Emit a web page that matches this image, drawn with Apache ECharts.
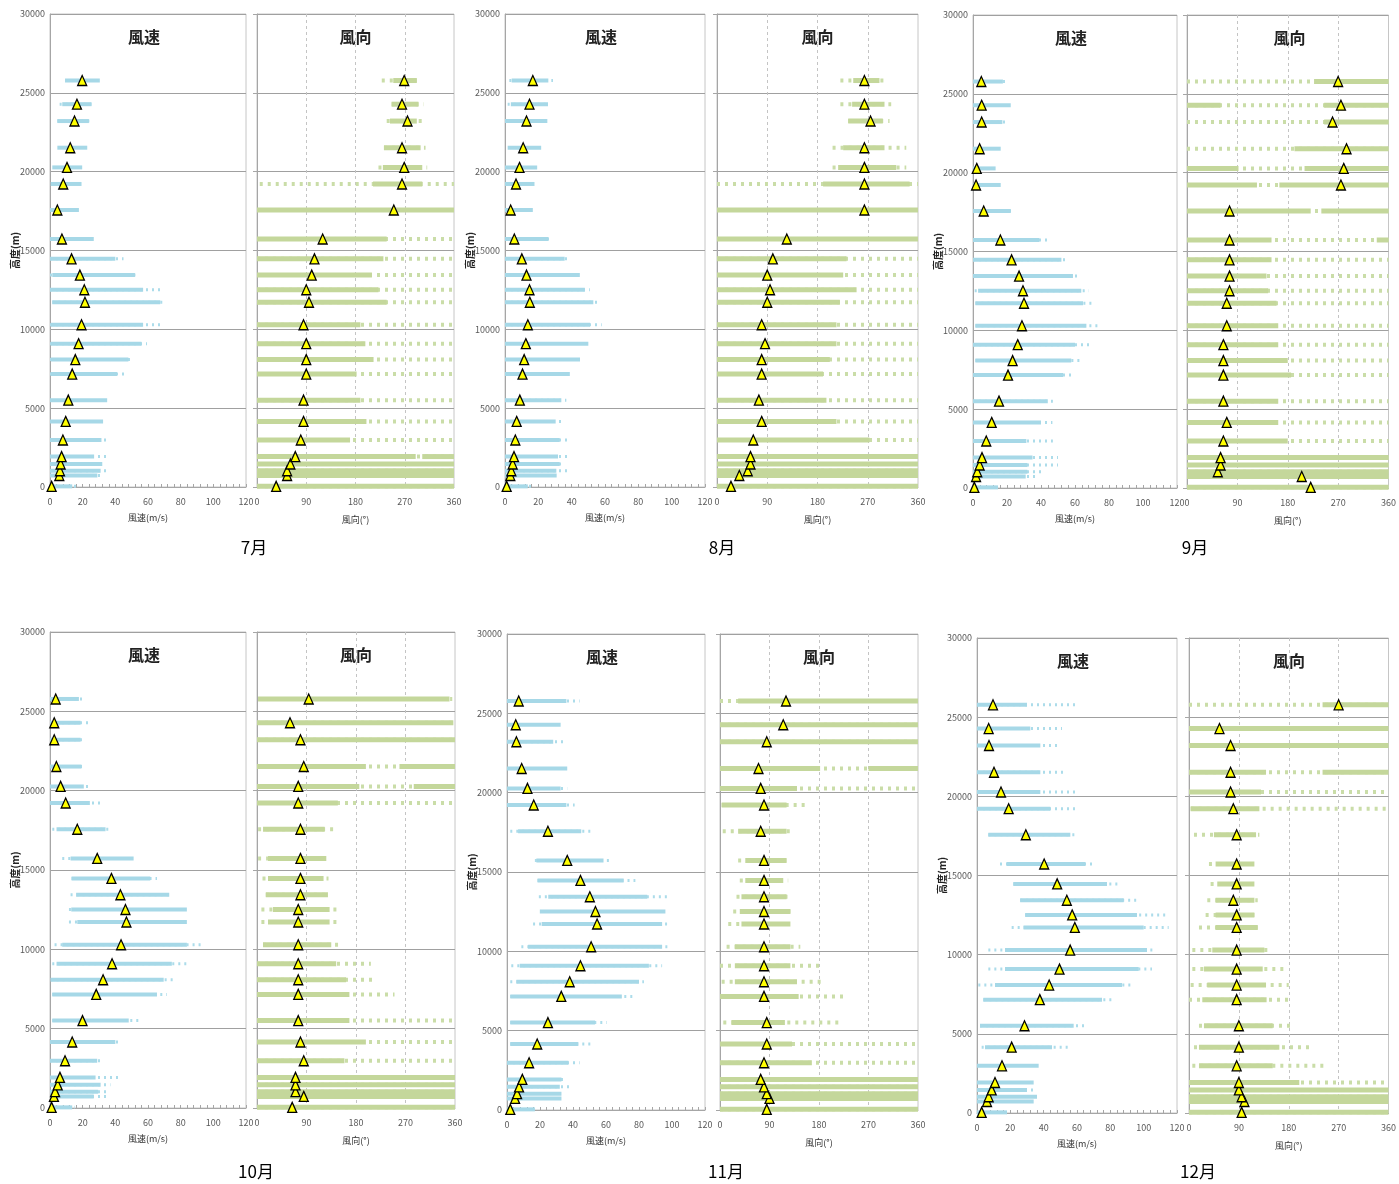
<!DOCTYPE html>
<html><head><meta charset="utf-8">
<script src="https://cdn.jsdelivr.net/npm/echarts@6/dist/echarts.min.js"></script>
<style>html,body{margin:0;padding:0;background:#fff}#c{width:1399px;height:1184px}</style>
</head><body><div id="c"></div>
<script>
// ---------- data (levels bottom -> top, metres) ----------
const LEVELS = [40, 730, 1030, 1460, 1930, 2980, 4160, 5510, 7160, 8080, 9090, 10290, 11720, 12510, 13440, 14470, 15730, 17570, 19220, 20270, 21520, 23210, 24280, 25780];
const MONTHS = ['7月', '8月', '9月', '10月', '11月', '12月'];
const ALT_AXIS = [0, 30000, 5000];
const SPD_AXIS = [0, 120, 20];
const DIR_AXIS = [0, 360, 90];

// wind speed: median (triangle), sparse low, dense low, dense high, sparse high (m/s)
const JUL_SPD_MED = [1.0, 5.7, 6.1, 6.5, 7.1, 7.9, 9.6, 11.2, 13.6, 15.5, 17.5, 19.3, 21.4, 21.0, 18.3, 13.2, 7.3, 4.5, 8.1, 10.4, 12.4, 15.0, 16.5, 19.7];
const JUL_SPD_LO  = [0, 0, 0, 0, 0, 0, 0, 0, 0, 0, 0, 0, 1.4, 0, 0, 0, 0, 0, 0.4, 1.4, 4.5, 4.5, 5.9, 9.2];
const JUL_SPD_DLO = [0, 0, 0, 0, 0, 0, 0, 0, 0.5, 0.5, 0.5, 0.5, 1.4, 0, 1.4, 0, 0, 0, 0.4, 1.4, 4.5, 4.5, 7.5, 9.2];
const JUL_SPD_DHI = [13.6, 29, 31, 32, 27, 31.5, 32.5, 35, 41, 48, 56, 57, 67.5, 57, 52, 40, 26.8, 17.7, 19.3, 19.7, 22.8, 23.8, 25.4, 30.5];
const JUL_SPD_HI  = [16, 32, 35, 33, 36, 36, 32.5, 35, 46, 49, 59.4, 69.6, 70.6, 69.6, 52.3, 45, 26.8, 17.7, 19.3, 19.7, 22.8, 26.2, 25.4, 30.5];

const AUG_SPD_MED = [1.0, 3.2, 3.8, 4.6, 5.4, 6.2, 7.0, 8.9, 10.5, 11.5, 12.5, 13.7, 14.9, 14.7, 12.9, 10.1, 5.6, 3.4, 6.6, 8.7, 10.9, 12.9, 14.7, 16.7];
const AUG_SPD_LO  = [0, 0, 0, 0, 0, 0, 0, 0, 0, 0, 0, 0, 0, 0, 0, 0, 0, 0, 0, 0, 1.6, 0, 1.6, 2.6];
const AUG_SPD_DLO = [0, 0, 0, 0, 0, 0, 0, 0, 0, 0, 0, 0, 0, 0, 0, 0, 0, 0, 0, 0, 1.6, 0, 3.5, 4];
const AUG_SPD_DHI = [13.7, 31, 30.8, 32.8, 31.8, 32.8, 30.4, 33.8, 38.9, 45, 50, 51, 53, 47.9, 44.9, 35.8, 26, 16.7, 17.7, 19.3, 21.7, 25.4, 25.8, 26];
const AUG_SPD_HI  = [16.7, 31, 39.5, 36, 39.5, 39.5, 35.8, 36.8, 38.9, 45, 50, 58, 56, 50.9, 44.9, 38.9, 27.8, 16.7, 17.7, 19.3, 21.7, 25.4, 25.8, 28.8];

const SEP_SPD_MED = [0.8, 1.8, 2.5, 3.9, 5.3, 7.8, 11.0, 15.3, 20.6, 23.3, 26.3, 28.8, 30.0, 29.4, 27.1, 22.7, 16.1, 6.3, 1.8, 2.2, 3.9, 5.1, 5.1, 4.9];
const SEP_SPD_LO  = [0, 0, 0, 0, 0, 0, 0, 0, 0, 1.4, 0, 1.4, 1.4, 1, 0, 0, 0, 0, 0, 0, 0, 0, 0, 0];
const SEP_SPD_DLO = [0, 0, 0, 0, 0, 0, 0, 0, 0, 1.4, 0, 1.4, 1.4, 3, 0, 0, 0, 0, 0, 0, 0, 0, 0, 0];
const SEP_SPD_DHI = [14.7, 31, 32, 32, 35, 31.4, 40, 44, 53, 57.8, 60, 66.7, 64.7, 63.7, 58.8, 52, 39, 22.2, 16.3, 13.3, 16.3, 17.3, 22.2, 17.6];
const SEP_SPD_HI  = [14.7, 37, 41, 50, 50, 47, 46.7, 47, 58.8, 64.7, 70.6, 73.5, 70.6, 68.2, 61.8, 56, 44, 24.5, 16.3, 13.3, 16.3, 19.2, 22.2, 20.2];

const OCT_SPD_MED = [1.0, 2.4, 3.1, 4.7, 6.1, 9.2, 13.6, 19.9, 28.3, 32.5, 38.0, 43.5, 46.8, 46.2, 43.1, 37.6, 28.9, 16.7, 9.6, 6.5, 3.9, 2.6, 2.6, 3.5];
const OCT_SPD_LO  = [0, 0, 0, 0, 0, 0, 0, 1.4, 1.4, 0.4, 1.4, 2.8, 11.6, 11.6, 12.6, 13.2, 7.5, 1.4, 0, 0, 0, 0, 0, 0];
const OCT_SPD_DLO = [0, 0, 0, 0, 0, 0, 0, 1.4, 1.4, 0.4, 4, 7.5, 16.7, 13, 16, 13.2, 12.6, 4, 0, 0, 0, 0, 0, 0];
const OCT_SPD_DHI = [13.6, 26.8, 29.5, 31, 27.9, 28.9, 40, 48.2, 65.5, 69.6, 74.6, 83.8, 83.8, 83.8, 73, 61.4, 51.2, 34, 24.4, 20.7, 19.3, 18.7, 18.7, 17.7];
const OCT_SPD_HI  = [15, 35, 35, 37, 44, 32, 43, 54.3, 71.6, 75.6, 84.8, 93, 83.8, 83.8, 74.6, 65.5, 51.2, 37, 32, 25, 22, 22, 25, 22];

const NOV_SPD_MED = [2.0, 4.9, 6.1, 7.3, 9.3, 13.4, 18.3, 24.8, 32.9, 38, 44.5, 51, 54.6, 53.6, 50.2, 44.5, 36.5, 24.8, 16.2, 12.4, 8.9, 5.7, 5.3, 7.1];
const NOV_SPD_LO  = [0, 0, 0, 0, 0, 0, 2, 2, 2, 2, 2.6, 8.7, 15.8, 19.9, 19.3, 18.5, 16.9, 2, 0, 0, 0, 0, 0, 0];
const NOV_SPD_DLO = [0, 0, 0, 0, 0, 0, 2, 2, 2, 5.7, 7.7, 12.8, 21, 19.9, 25, 18.5, 17.8, 6.7, 0, 0, 0, 0, 0, 0];
const NOV_SPD_DHI = [16.9, 33, 33, 32, 33, 37.2, 43.2, 53.4, 69.6, 80, 86, 94, 94, 96, 85, 70.7, 58.5, 45, 36, 32.5, 36.5, 28, 32.5, 36];
const NOV_SPD_HI  = [16.9, 33, 33, 39, 35, 44, 52.4, 60.5, 76, 83, 94, 97.7, 97, 96, 97, 77.8, 62, 52, 41, 36.5, 36.5, 35, 32.5, 44];

const DEC_SPD_MED = [2.8, 6.0, 7.0, 8.8, 10.8, 15.0, 20.8, 28.5, 37.7, 43.3, 49.5, 55.9, 58.7, 57.1, 53.9, 48.1, 40.3, 29.3, 19.0, 14.4, 10.2, 7.2, 7.0, 9.6];
const DEC_SPD_LO  = [0, 0, 0, 0, 0, 0, 2.8, 1.8, 3.8, 0.8, 6.8, 6.8, 20.8, 28.9, 25.9, 21.8, 13.8, 6.8, 0, 0, 0, 0, 0, 0];
const DEC_SPD_DLO = [0, 0, 0, 0, 0, 0, 4.8, 1.8, 3.8, 10.8, 16.8, 16.8, 27.9, 28.9, 25.9, 21.8, 17.8, 6.8, 0, 0, 0, 0, 0, 0];
const DEC_SPD_DHI = [18, 34, 36, 30, 34, 37, 45, 58, 75, 87, 97, 102, 100, 96, 88, 78, 65, 56, 44, 38, 38, 38, 32, 30];
const DEC_SPD_HI  = [18, 34, 36, 36, 34, 37, 55, 66, 82, 94, 105, 106, 115, 114, 96, 86, 69, 59, 61, 61, 53, 49, 51, 60];

// wind direction: median (triangle), sparse extent lo/hi, dense segments (degrees)
const JUL_DIR_MED = [35, 55, 55, 61, 70, 80, 85, 85, 90, 90, 90, 85, 95, 90, 100, 105, 120, 250, 265, 269, 265, 275, 265, 269];
const JUL_DIR_LO  = [0, 0, 0, 0, 0, 0, 0, 0, 0, 0, 0, 0, 0, 0, 0, 0, 0, 0, 5, 222, 232, 237, 246, 228];
const JUL_DIR_HI  = [360, 360, 360, 360, 360, 360, 360, 360, 360, 360, 360, 360, 360, 360, 360, 360, 360, 360, 360, 311, 308, 304, 305, 292];
const JUL_DIR_DENSE = [[[0,360]], [[0,360]], [[0,360]], [[0,360]], [[0,290],[302,360]], [[0,170]], [[0,200]], [[0,189]], [[0,182]], [[0,213]], [[0,198]], [[0,189]], [[0,237]], [[0,222]], [[0,210]], [[0,231]], [[0,237]], [[0,360]], [[212,302]], [[230,302]], [[232,299]], [[243,292]], [[246,295]], [[249,292]]];

const AUG_DIR_MED = [25, 40, 55, 60, 60, 65, 80, 75, 80, 80, 86, 80, 90, 95, 90, 100, 125, 264, 264, 264, 264, 275, 264, 264];
const AUG_DIR_LO  = [0, 0, 0, 0, 0, 0, 0, 0, 0, 0, 0, 0, 0, 0, 0, 0, 0, 0, 0, 207, 207, 235, 221, 221];
const AUG_DIR_HI  = [360, 360, 360, 360, 360, 360, 360, 360, 360, 360, 360, 360, 360, 360, 360, 360, 360, 360, 360, 339, 339, 309, 312, 303];
const AUG_DIR_DENSE = [[[0,360]], [[0,360]], [[0,360]], [[0,360]], [[0,360]], [[0,273]], [[0,214]], [[0,196]], [[0,190]], [[0,202]], [[0,214]], [[0,214]], [[0,220]], [[0,250]], [[0,226]], [[0,232]], [[0,360]], [[0,360]], [[190,345]], [[217,321]], [[226,300]], [[235,297]], [[242,300]], [[244,291]]];

const SEP_DIR_MED = [221, 205, 55, 60, 60, 65, 71, 65, 65, 65, 65, 71, 71, 76, 76, 76, 76, 76, 275, 280, 285, 260, 275, 270];
const SEP_DIR_LO  = [0, 0, 0, 0, 0, 0, 0, 0, 0, 0, 0, 0, 0, 0, 0, 0, 0, 0, 0, 0, 0, 0, 0, 0];
const SEP_DIR_HI  = [360, 360, 360, 360, 360, 360, 360, 360, 360, 360, 360, 360, 360, 360, 360, 360, 360, 360, 360, 360, 360, 360, 360, 360];
const SEP_DIR_DENSE = [[[0,360]], [[0,360]], [[0,360]], [[0,360]], [[0,360]], [[0,180]], [[0,163]], [[0,163]], [[0,186]], [[0,180]], [[0,163]], [[0,163]], [[0,160]], [[0,145]], [[0,142]], [[0,151]], [[0,151],[339,360]], [[0,221],[240,360]], [[0,125],[165,360]], [[0,92],[210,360]], [[192,360]], [[245,360]], [[0,60],[245,360]], [[227,360]]];

const OCT_DIR_MED = [64, 85, 70, 70, 70, 85, 79, 75, 75, 75, 75, 75, 75, 75, 79, 79, 79, 79, 75, 75, 85, 79, 60, 94];
const OCT_DIR_LO  = [0, 0, 0, 0, 0, 0, 0, 0, 0, 0, 0, 11, 8, 8, 16, 10, 2, 2, 0, 0, 0, 0, 0, 2];
const OCT_DIR_HI  = [360, 360, 360, 360, 360, 360, 360, 360, 250, 217, 207, 155, 147, 147, 129, 130, 126, 146, 360, 360, 360, 360, 360, 355];
const OCT_DIR_DENSE = [[[0,360]], [[0,360]], [[0,360]], [[0,360]], [[0,360]], [[0,159]], [[0,198]], [[0,168]], [[0,168]], [[0,162]], [[0,144]], [[11,135]], [[20,132]], [[29,132]], [[16,129]], [[20,121]], [[20,126]], [[11,123]], [[0,147]], [[0,186],[285,360]], [[0,198],[259,360]], [[0,360]], [[0,357]], [[2,350]]];

const NOV_DIR_MED = [85, 90, 85, 80, 74, 80, 85, 85, 80, 80, 80, 80, 80, 80, 80, 80, 80, 74, 80, 74, 70, 85, 115, 120];
const NOV_DIR_LO  = [0, 0, 0, 0, 0, 0, 0, 6, 0, 3, 0, 12, 15, 24, 30, 36, 33, 5, 3, 0, 0, 0, 0, 0];
const NOV_DIR_HI  = [360, 360, 360, 360, 360, 360, 360, 216, 225, 185, 188, 146, 128, 128, 124, 124, 121, 131, 161, 360, 360, 360, 360, 360];
const NOV_DIR_DENSE = [[[0,360]], [[0,360]], [[0,360]], [[0,360]], [[0,360]], [[0,167]], [[0,131]], [[21,118]], [[0,143]], [[27,140]], [[27,128]], [[27,128]], [[39,128]], [[36,128]], [[39,121]], [[46,115]], [[46,121]], [[33,121]], [[3,121]], [[0,140]], [[0,182],[270,360]], [[0,360]], [[0,360]], [[33,360]]];

const DEC_DIR_MED = [95, 100, 95, 90, 90, 86, 90, 90, 86, 86, 86, 86, 86, 86, 80, 86, 86, 86, 80, 75, 75, 75, 55, 270];
const DEC_DIR_LO  = [0, 0, 0, 0, 0, 6, 9, 18, 0, 3, 6, 6, 18, 30, 33, 39, 36, 9, 3, 0, 0, 0, 0, 0];
const DEC_DIR_HI  = [360, 360, 360, 360, 360, 250, 217, 190, 180, 180, 172, 150, 124, 118, 124, 118, 118, 127, 360, 360, 360, 360, 360, 360];
const DEC_DIR_DENSE = [[[0,360]], [[0,360]], [[0,360]], [[0,360]], [[0,199]], [[18,151]], [[18,163]], [[27,151]], [[24,140]], [[33,139]], [[27,133]], [[42,136]], [[48,124]], [[48,118]], [[48,118]], [[51,118]], [[48,118]], [[45,121]], [[3,127]], [[0,130]], [[0,139],[241,360]], [[0,360]], [[0,360]], [[241,360]]];

// ---------- assembly ----------
const SPD = [
  [JUL_SPD_MED, JUL_SPD_LO, JUL_SPD_DLO, JUL_SPD_DHI, JUL_SPD_HI],
  [AUG_SPD_MED, AUG_SPD_LO, AUG_SPD_DLO, AUG_SPD_DHI, AUG_SPD_HI],
  [SEP_SPD_MED, SEP_SPD_LO, SEP_SPD_DLO, SEP_SPD_DHI, SEP_SPD_HI],
  [OCT_SPD_MED, OCT_SPD_LO, OCT_SPD_DLO, OCT_SPD_DHI, OCT_SPD_HI],
  [NOV_SPD_MED, NOV_SPD_LO, NOV_SPD_DLO, NOV_SPD_DHI, NOV_SPD_HI],
  [DEC_SPD_MED, DEC_SPD_LO, DEC_SPD_DLO, DEC_SPD_DHI, DEC_SPD_HI]
];
const DIR = [
  [JUL_DIR_MED, JUL_DIR_LO, JUL_DIR_HI, JUL_DIR_DENSE],
  [AUG_DIR_MED, AUG_DIR_LO, AUG_DIR_HI, AUG_DIR_DENSE],
  [SEP_DIR_MED, SEP_DIR_LO, SEP_DIR_HI, SEP_DIR_DENSE],
  [OCT_DIR_MED, OCT_DIR_LO, OCT_DIR_HI, OCT_DIR_DENSE],
  [NOV_DIR_MED, NOV_DIR_LO, NOV_DIR_HI, NOV_DIR_DENSE],
  [DEC_DIR_MED, DEC_DIR_LO, DEC_DIR_HI, DEC_DIR_DENSE]
];

// panel boxes [left, top, width, height]
const LAYOUT = [
  {spd: [50, 14, 196, 473], dir: [257, 14, 197, 473], label: [254, 548]},
  {spd: [505, 14, 200, 473], dir: [717, 14, 201, 473], label: [722, 548]},
  {spd: [973, 15, 204, 473], dir: [1187, 15, 205, 473], label: [1195, 548]},
  {spd: [50, 632, 196, 476], dir: [257, 632, 198, 476], label: [256, 1172]},
  {spd: [507, 634, 198, 476], dir: [720, 634, 198, 476], label: [726, 1172]},
  {spd: [977, 638, 200, 475], dir: [1189, 638, 200, 475], label: [1198, 1172]}
];

const FONT = '"Noto Sans CJK JP", "Noto Sans", sans-serif';
const STRIP_STYLE = [
  {color: '#acdcea', w: 3, dash: [2, 4]},   // speed sparse
  {color: '#a6d8e7', w: 4, dash: null},     // speed dense
  {color: '#cadda8', w: 4, dash: [3, 5]},   // dir sparse
  {color: '#c4d79b', w: 5, dash: null}      // dir dense
];

function renderStrip(params, api) {
  const kind = api.value(3);
  const a = api.coord([api.value(0), api.value(2)]);
  const b = api.coord([api.value(1), api.value(2)]);
  const st = STRIP_STYLE[kind];
  return {
    type: 'line',
    shape: {x1: a[0], y1: a[1], x2: b[0], y2: b[1]},
    style: {stroke: st.color, lineWidth: st.w, lineDash: st.dash}
  };
}

const grids = [], xAxes = [], yAxes = [], series = [], graphics = [];
const axisGray = '#a6a6a6';
const TRI = {symbol: 'triangle', symbolSize: [9, 10],
  itemStyle: {color: '#ffff00', borderColor: '#000', borderWidth: 1.3, opacity: 1}};

LAYOUT.forEach((L, m) => {
  const gs = grids.length;
  [L.spd, L.dir].forEach(b => grids.push({left: b[0], top: b[1], width: b[2], height: b[3], show: true, borderColor: '#c6c6c6', borderWidth: 1, containLabel: false}));
  // speed axes
  xAxes.push({
    gridIndex: gs, type: 'value', min: SPD_AXIS[0], max: SPD_AXIS[1], interval: SPD_AXIS[2],
    axisLine: {show: true, lineStyle: {color: axisGray}},
    axisTick: {show: true, inside: true, length: 3, lineStyle: {color: axisGray}},
    minorTick: {show: true, splitNumber: 5, length: 3, lineStyle: {color: axisGray}},
    axisLabel: {fontSize: 9, color: '#595959', margin: 10, fontFamily: FONT},
    splitLine: {show: false},
    name: '風速(m/s)', nameLocation: 'middle', nameGap: 26,
    nameTextStyle: {fontSize: 9, color: '#333', fontFamily: FONT}
  });
  yAxes.push({
    gridIndex: gs, type: 'value', min: ALT_AXIS[0], max: ALT_AXIS[1], interval: ALT_AXIS[2],
    axisLine: {show: true, lineStyle: {color: axisGray}},
    axisTick: {show: false},
    axisLabel: {fontSize: 9, color: '#595959', margin: 5, fontFamily: FONT, formatter: v => String(v)},
    splitLine: {show: true, lineStyle: {color: '#a0a0a0', width: 1}}
  });
  // direction axes
  xAxes.push({
    gridIndex: gs + 1, type: 'value', min: DIR_AXIS[0], max: DIR_AXIS[1], interval: DIR_AXIS[2],
    axisLine: {show: true, lineStyle: {color: axisGray}},
    axisTick: {show: false},
    axisLabel: {fontSize: 9, color: '#595959', margin: 10, fontFamily: FONT},
    splitLine: {show: true, showMinLine: false, showMaxLine: false, lineStyle: {color: '#c4c4c4', type: [3, 3], width: 1}},
    name: '風向(°)', nameLocation: 'middle', nameGap: 28,
    nameTextStyle: {fontSize: 9, color: '#333', fontFamily: FONT}
  });
  yAxes.push({
    gridIndex: gs + 1, type: 'value', min: ALT_AXIS[0], max: ALT_AXIS[1], interval: ALT_AXIS[2],
    axisLine: {show: true, lineStyle: {color: axisGray}},
    axisTick: {show: true, length: 4, lineStyle: {color: axisGray}},
    axisLabel: {show: false},
    splitLine: {show: true, lineStyle: {color: '#a0a0a0', width: 1}}
  });

  // speed strips
  const [med, lo, dlo, dhi, hi] = SPD[m];
  const spdStrips = [];
  LEVELS.forEach((alt, i) => {
    if (lo[i] < dlo[i] || hi[i] > dhi[i]) spdStrips.push([lo[i], hi[i], alt, 0]);
    spdStrips.push([dlo[i], dhi[i], alt, 1]);
  });
  series.push({type: 'custom', xAxisIndex: gs, yAxisIndex: gs, renderItem: renderStrip,
    encode: {x: [0, 1], y: 2}, data: spdStrips, z: 2, silent: true});
  series.push(Object.assign({type: 'scatter', xAxisIndex: gs, yAxisIndex: gs,
    data: LEVELS.map((alt, i) => [med[i], alt]), z: 5, silent: true}, TRI));

  // direction strips
  const [dmed, dlo2, dhi2, dense] = DIR[m];
  const dirStrips = [];
  LEVELS.forEach((alt, i) => {
    dirStrips.push([dlo2[i], dhi2[i], alt, 2]);
    dense[i].forEach(seg => dirStrips.push([seg[0], seg[1], alt, 3]));
  });
  series.push({type: 'custom', xAxisIndex: gs + 1, yAxisIndex: gs + 1, renderItem: renderStrip,
    encode: {x: [0, 1], y: 2}, data: dirStrips, z: 2, silent: true});
  series.push(Object.assign({type: 'scatter', xAxisIndex: gs + 1, yAxisIndex: gs + 1,
    data: LEVELS.map((alt, i) => [dmed[i], alt]), z: 5, silent: true}, TRI));

  // titles and labels
  const tY = L.spd[1] + 23;
  graphics.push({type: 'text', x: L.spd[0] + L.spd[2] / 2 - 4, y: tY,
    style: {text: '風速', font: 'bold 16px ' + FONT, fill: '#222', textAlign: 'center', textVerticalAlign: 'middle'}});
  graphics.push({type: 'text', x: L.dir[0] + L.dir[2] / 2, y: tY,
    style: {text: '風向', font: 'bold 16px ' + FONT, fill: '#222', textAlign: 'center', textVerticalAlign: 'middle'}});
  graphics.push({type: 'text', x: L.label[0], y: L.label[1],
    style: {text: MONTHS[m], font: '17px ' + FONT, fill: '#000', textAlign: 'center', textVerticalAlign: 'middle'}});
  graphics.push({type: 'text', x: L.spd[0] - 35, y: L.spd[1] + L.spd[3] / 2, rotation: Math.PI / 2,
    style: {text: '高度(m)', font: 'bold 10px ' + FONT, fill: '#222', textAlign: 'center', textVerticalAlign: 'middle'}});
});

const chart = echarts.init(document.getElementById('c'), null, {renderer: 'canvas'});
chart.setOption({
  animation: false,
  backgroundColor: '#fff',
  textStyle: {fontFamily: FONT},
  grid: grids, xAxis: xAxes, yAxis: yAxes, series: series,
  graphic: graphics
});
</script></body></html>
